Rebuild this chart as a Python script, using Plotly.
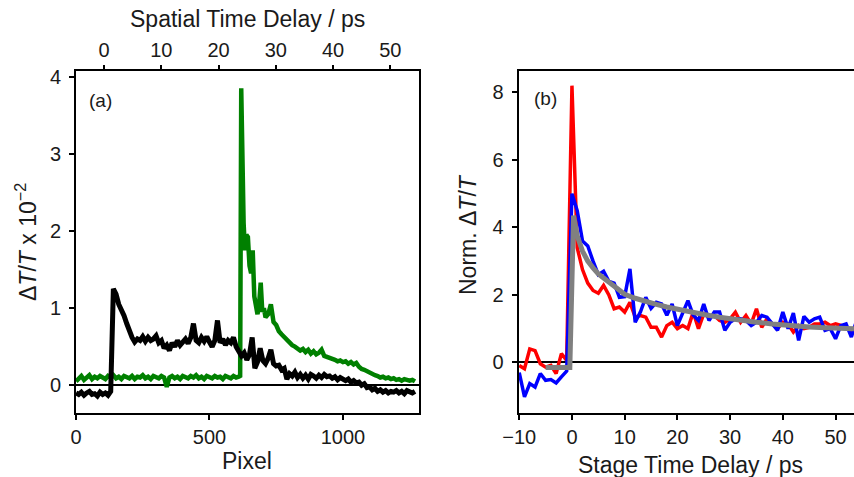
import plotly.graph_objects as go

# ---------------- Panel (a) data ----------------
black_x = list(range(0, 1280, 10))
black_y = [-0.10, -0.12, -0.09, -0.13, -0.10, -0.08, -0.12, -0.11, -0.14, -0.09,
           -0.12, -0.10, -0.13, -0.08, 1.25, 1.18, 1.05, 0.98, 0.90, 0.80,
           0.70, 0.62, 0.56, 0.60, 0.58, 0.63, 0.57, 0.62, 0.58, 0.60,
           0.64, 0.55, 0.58, 0.48, 0.52, 0.45, 0.55, 0.50, 0.58, 0.52,
           0.56, 0.60, 0.54, 0.62, 0.80, 0.58, 0.55, 0.62, 0.57, 0.63,
           0.56, 0.50, 0.58, 0.84, 0.55, 0.60, 0.52, 0.58, 0.55, 0.62,
           0.50, 0.44, 0.38, 0.42, 0.33, 0.40, 0.62, 0.22, 0.30, 0.48,
           0.32, 0.28, 0.35, 0.46, 0.28, 0.25, 0.26, 0.20, 0.22, 0.08,
           0.15, 0.12, 0.17, 0.10, 0.14, 0.09, 0.13, 0.08, 0.14, 0.12,
           0.09, 0.13, 0.10, 0.14, 0.11, 0.12, 0.09, 0.11, 0.07, 0.10,
           0.08, 0.06, 0.08, 0.04, 0.06, 0.03, 0.04, 0.00, 0.02, -0.03,
           -0.02, -0.06, -0.04, -0.08, -0.06, -0.09, -0.07, -0.10, -0.08, -0.09,
           -0.07, -0.10, -0.08, -0.11, -0.07, -0.09, -0.10, -0.08]

green_x = (list(range(0, 620, 10)) + [615, 619, 624, 628, 633, 638, 644, 650, 656, 662,
           668, 674, 680, 686, 692, 698, 704] + list(range(710, 1280, 10)))
green_y = [0.05, 0.08, 0.12, 0.07, 0.10, 0.13, 0.08, 0.11, 0.09, 0.12,
           0.10, 0.08, 0.12, 0.10, 0.13, 0.09, 0.11, 0.08, 0.12, 0.10,
           0.09, 0.12, 0.08, 0.11, 0.10, 0.13, 0.09, 0.11, 0.08, 0.12,
           0.10, 0.09, 0.12, 0.10, -0.02, 0.10, 0.12, 0.09, 0.11, 0.08,
           0.12, 0.10, 0.09, 0.12, 0.10, 0.13, 0.09, 0.11, 0.08, 0.12,
           0.10, 0.09, 0.12, 0.10, 0.11, 0.08, 0.12, 0.10, 0.09, 0.12,
           0.10, 0.11,
           0.12, 3.85, 2.60, 2.10, 1.75, 1.95, 1.92, 1.55, 1.45, 1.75,
           1.15, 1.00, 0.92, 1.05, 1.33, 0.95, 1.00,
           0.88, 0.92, 1.05, 0.82, 0.78, 0.70, 0.66, 0.62, 0.58, 0.55,
           0.52, 0.50, 0.48, 0.45, 0.47, 0.43, 0.46, 0.41, 0.44, 0.40,
           0.42, 0.46, 0.38, 0.37, 0.35, 0.34, 0.33, 0.31, 0.32, 0.30,
           0.31, 0.28, 0.30, 0.27, 0.29, 0.24, 0.21, 0.20, 0.18, 0.16,
           0.15, 0.13, 0.12, 0.10, 0.11, 0.09, 0.10, 0.08, 0.09, 0.07,
           0.08, 0.06, 0.08, 0.07, 0.06, 0.07, 0.05]

spatial_ticks = [0, 10, 20, 30, 40, 50]

# ---------------- Panel (b) data ----------------
stage_x = list(range(-10, 55))
red_y = [-0.09, -0.19, 0.40, 0.35, -0.04, -0.14, -0.09, -0.33, 0.26, 0.06,
         8.20, 3.40, 2.75, 2.35, 2.13, 2.05, 2.28, 2.00, 1.59, 1.64,
         1.49, 1.78, 1.34, 1.39, 1.34, 1.04, 1.04, 0.75, 1.09, 1.19,
         1.00, 1.09, 1.00, 1.49, 1.00, 1.44, 1.34, 1.39, 1.24, 1.19,
         1.29, 1.49, 1.19, 1.39, 1.14, 1.59, 1.04, 1.29, 1.14, 1.00,
         1.19, 1.14, 0.90, 1.09, 1.00, 1.04, 1.14, 1.14, 1.19, 1.09,
         1.14, 1.10, 1.05, 0.95, 1.00]
blue_y = [-0.30, -1.02, -0.63, -0.73, -0.33, -0.53, -0.51, -0.61, -0.43, -0.26,
          5.00, 4.50, 3.60, 3.45, 3.00, 2.60, 2.70, 2.40, 2.35, 1.93,
          1.95, 2.77, 1.19, 1.50, 1.93, 1.60, 1.78, 1.73, 1.40, 1.73,
          1.09, 1.45, 1.83, 1.40, 1.24, 1.73, 1.24, 1.49, 1.49, 0.95,
          1.19, 1.29, 1.29, 1.24, 1.09, 1.19, 1.39, 1.34, 1.14, 0.95,
          1.49, 1.00, 1.46, 0.65, 1.36, 1.19, 1.29, 1.34, 0.95, 1.00,
          0.70, 1.09, 1.14, 0.75, 1.24]
fit_x = [-5, -4, -3, -2, -1, -0.4, 0.3, 1, 2, 3, 4, 5, 6, 7, 8, 9, 10, 12, 14, 16,
         18, 20, 22, 25, 28, 30, 33, 35, 38, 40, 43, 45, 48, 50, 53.5]
fit_y = [-0.15, -0.15, -0.15, -0.15, -0.15, -0.15, 4.35, 3.75, 3.30, 3.00, 2.80, 2.62,
         2.50, 2.38, 2.25, 2.13, 2.02, 1.90, 1.80, 1.72, 1.64, 1.57, 1.50, 1.42,
         1.34, 1.29, 1.22, 1.19, 1.14, 1.11, 1.07, 1.05, 1.03, 1.02, 1.00]

FONT = "Liberation Sans, Arial, sans-serif"
TXT = "#1a1a1a"
W, H = 854, 477

fig = go.Figure()
fig.add_trace(go.Scatter(x=green_x, y=green_y, mode="lines",
                         line=dict(color="#008000", width=4.5), xaxis="x", yaxis="y"))
fig.add_trace(go.Scatter(x=black_x, y=black_y, mode="lines",
                         line=dict(color="black", width=5), xaxis="x", yaxis="y"))
# helper (invisible) trace so the top spatial axis is drawn
fig.add_trace(go.Scatter(x=spatial_ticks, y=[0] * len(spatial_ticks), mode="markers",
                         marker=dict(opacity=0), xaxis="x3", yaxis="y", hoverinfo="skip"))

fig.add_trace(go.Scatter(x=stage_x, y=red_y, mode="lines",
                         line=dict(color="#ff0000", width=3.5), xaxis="x2", yaxis="y2"))
fig.add_trace(go.Scatter(x=stage_x, y=blue_y, mode="lines",
                         line=dict(color="#0000ff", width=3.5), xaxis="x2", yaxis="y2"))
fig.add_trace(go.Scatter(x=fit_x, y=fit_y, mode="lines",
                         line=dict(color="#808080", width=5), xaxis="x2", yaxis="y2"))

y_dom = [1 - 413 / H, 1 - 70.5 / H]
tickfont = dict(family=FONT, size=20, color=TXT)
common = dict(showgrid=False, showline=True, linecolor="black", linewidth=2,
              ticks="outside", ticklen=5, tickwidth=1.5, tickcolor="black",
              tickfont=tickfont, automargin=False)

fig.update_layout(
    width=W, height=H, margin=dict(l=0, r=0, t=0, b=0, autoexpand=False),
    paper_bgcolor="white", plot_bgcolor="white", showlegend=False,
    font=dict(family=FONT, color=TXT),
    xaxis=dict(domain=[76 / W, 419 / W], range=[0, 1285], anchor="y",
               tickvals=[0, 500, 1000], mirror=True, zeroline=False, **common),
    yaxis=dict(domain=y_dom, range=[-0.36, 4.08], anchor="x",
               tickvals=[0, 1, 2, 3, 4], mirror=True, zeroline=True,
               zerolinecolor="black", zerolinewidth=2, ticklabelstandoff=4, **common),
    xaxis3=dict(overlaying="x", side="top", anchor="y", range=[-4.9, 55],
                tickvals=spatial_ticks, showgrid=False, showline=False,
                ticks="outside", ticklen=5, tickwidth=1.5, tickcolor="black",
                tickfont=tickfont, zeroline=False, automargin=False),
    xaxis2=dict(domain=[518.7 / W, 1.0], range=[-10.1, 53.5], anchor="y2",
                tickvals=[-10, 0, 10, 20, 30, 40, 50], mirror=True, zeroline=False,
                **common),
    yaxis2=dict(domain=y_dom, range=[-1.5, 8.65], anchor="x2",
                tickvals=[0, 2, 4, 6, 8], mirror=False, zeroline=True,
                zerolinecolor="black", zerolinewidth=2, ticklabelstandoff=4, **common),
)

titlefont = dict(family=FONT, size=23, color=TXT)
ann = [
    dict(text="Spatial Time Delay / ps", x=247 / W, y=1 - 19 / H),
    dict(text="Pixel", x=247 / W, y=1 - 461 / H),
    dict(text="Stage Time Delay / ps", x=690 / W, y=1 - 465 / H),
    dict(text="Δ<i>T</i>/<i>T</i> x 10<sup>−2</sup>", x=26 / W, y=1 - 242 / H, textangle=-90),
    dict(text="Norm. Δ<i>T</i>/<i>T</i>", x=468 / W, y=1 - 235 / H, textangle=-90),
]
for a in ann:
    fig.add_annotation(xref="paper", yref="paper", showarrow=False,
                       xanchor="center", yanchor="middle", font=titlefont, **a)
fig.add_annotation(text="(a)", xref="paper", yref="paper", x=100 / W, y=1 - 100 / H,
                   showarrow=False, xanchor="center", yanchor="middle",
                   font=dict(family=FONT, size=19, color=TXT))
fig.add_annotation(text="(b)", xref="paper", yref="paper", x=545 / W, y=1 - 98 / H,
                   showarrow=False, xanchor="center", yanchor="middle",
                   font=dict(family=FONT, size=19, color=TXT))

fig.write_html("out.html")
